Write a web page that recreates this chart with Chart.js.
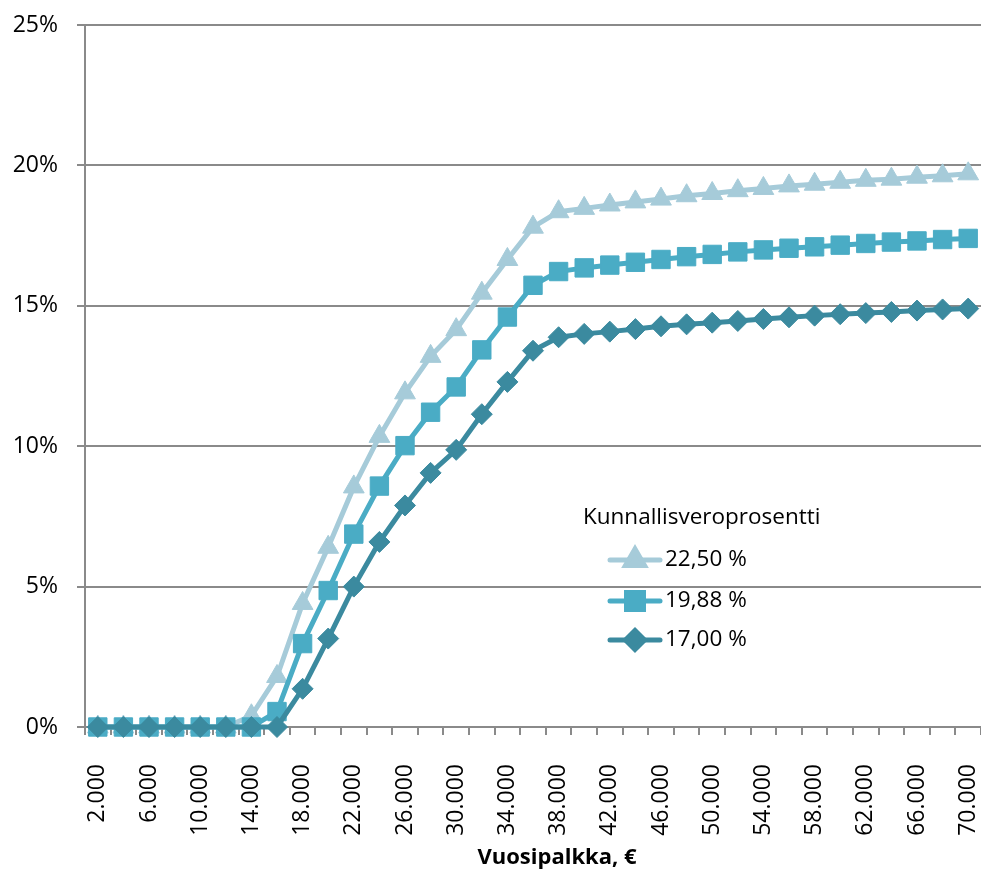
<!DOCTYPE html>
<html>
<head>
<meta charset="utf-8">
<script src="https://cdn.jsdelivr.net/npm/chart.js@4/dist/chart.umd.min.js"></script>
<style>
  html, body { margin: 0; padding: 0; background: #fff; }
  #wrap { width: 981px; height: 872px; }
</style>
</head>
<body>
<div id="wrap"><canvas id="chart" width="981" height="872"></canvas></div>
<script>
// Vuosipalkka (€) vs. tax share, three municipal tax rates
var salaries = [2000, 4000, 6000, 8000, 10000, 12000, 14000, 16000, 18000, 20000,
  22000, 24000, 26000, 28000, 30000, 32000, 34000, 36000, 38000, 40000,
  42000, 44000, 46000, 48000, 50000, 52000, 54000, 56000, 58000, 60000,
  62000, 64000, 66000, 68000, 70000];

var seriesNames = ["22,50 %", "19,88 %", "17,00 %"];

var tax2250 = [0, 0, 0, 0, 0, 0, 0.4, 1.8, 4.4, 6.4,
  8.55, 10.35, 11.9, 13.2, 14.15, 15.45, 16.65, 17.8, 18.35, 18.47,
  18.59, 18.7, 18.8, 18.92, 19.0, 19.1, 19.18, 19.27, 19.33, 19.4,
  19.47, 19.51, 19.58, 19.63, 19.7];

var tax1988 = [0, 0, 0, 0, 0, 0, 0, 0.55, 2.97, 4.86,
  6.87, 8.58, 10.02, 11.21, 12.11, 13.43, 14.6, 15.73, 16.22, 16.35,
  16.45, 16.55, 16.65, 16.75, 16.83, 16.92, 16.99, 17.05, 17.1, 17.16,
  17.22, 17.27, 17.31, 17.36, 17.4];

var tax1700 = [0, 0, 0, 0, 0, 0, 0, 0, 1.36, 3.15,
  5.0, 6.59, 7.89, 9.05, 9.87, 11.14, 12.29, 13.4, 13.88, 14.0,
  14.08, 14.17, 14.27, 14.34, 14.4, 14.46, 14.53, 14.59, 14.65, 14.7,
  14.74, 14.78, 14.83, 14.87, 14.9];

var yTicks = [0, 5, 10, 15, 20, 25];

var FONT = "'Open Sans', 'Noto Sans', sans-serif";
var GRID = "#8a8a8a";

function fmtThousands(n) {
  return String(n).replace(/\B(?=(\d{3})+(?!\d))/g, ".");
}

function ds(label, data, color, style, radius) {
  return {
    label: label,
    data: data,
    borderColor: color,
    backgroundColor: color,
    borderWidth: 5,
    tension: 0,
    clip: false,
    pointStyle: style,
    pointRadius: radius,
    pointBorderWidth: 1,
    pointBackgroundColor: color,
    pointBorderColor: color
  };
}

// first dataset is drawn on top, so the diamonds go first
var datasets = [
  ds(seriesNames[2], tax1700, "#3b8a9f", "rectRot", 10.5),
  ds(seriesNames[1], tax1988, "#4aacc5", "rect", 13),
  ds(seriesNames[0], tax2250, "#a6cbd9", "triangle", 12)
];

// legend + axis title drawn by hand, placed like the original
var insideLegend = {
  id: "insideLegend",
  afterDatasetsDraw: function (chart) {
    var ctx = chart.ctx;
    ctx.save();
    ctx.fillStyle = "#000";
    ctx.font = "22.5px " + FONT;
    ctx.textBaseline = "middle";
    ctx.textAlign = "left";
    ctx.fillText("Kunnallisveroprosentti", 583, 518);
    var rows = [560, 601, 640];
    var order = [2, 1, 0];
    order.forEach(function (di, i) {
      var d = chart.data.datasets[di];
      var y = rows[i];
      ctx.strokeStyle = d.borderColor;
      ctx.lineWidth = 5;
      ctx.lineCap = "round";
      ctx.beginPath();
      ctx.moveTo(610, y);
      ctx.lineTo(660, y);
      ctx.stroke();
      ctx.fillStyle = d.backgroundColor;
      Chart.helpers.drawPoint(ctx, {
        pointStyle: d.pointStyle, radius: d.pointRadius - 1, rotation: 0, borderWidth: 1
      }, 635, y);
      ctx.fillStyle = "#000";
      ctx.fillText(d.label, 665, y);
    });
    ctx.font = "bold 22px " + FONT;
    ctx.textAlign = "center";
    ctx.fillText("Vuosipalkka, €", 557, 858);
    ctx.restore();
  }
};

new Chart(document.getElementById("chart"), {
  type: "line",
  data: {
    labels: salaries,
    datasets: datasets
  },
  options: {
    responsive: false,
    animation: false,
    layout: { autoPadding: false, padding: { top: 25, right: 0, left: 0, bottom: 0 } },
    plugins: {
      legend: { display: false },
      tooltip: { enabled: false }
    },
    scales: {
      x: {
        type: "category",
        offset: true,
        afterFit: function (s) {
          s.height = 145;
          s.paddingLeft = 0;
          s.paddingRight = 0;
        },
        grid: {
          offset: true,
          drawOnChartArea: false,
          drawTicks: true,
          tickLength: 8,
          color: GRID,
          lineWidth: 2
        },
        border: { display: true, color: GRID, width: 2 },
        ticks: {
          autoSkip: false,
          maxRotation: 90,
          minRotation: 90,
          padding: 29,
          color: "#000",
          font: { family: FONT, size: 23 },
          callback: function (v, i) {
            return i % 2 === 0 ? fmtThousands(salaries[i]) : "";
          }
        }
      },
      y: {
        min: yTicks[0],
        max: yTicks[yTicks.length - 1],
        afterFit: function (s) {
          s.width = 85;
          s.paddingTop = 0;
          s.paddingBottom = 0;
        },
        afterBuildTicks: function (s) {
          s.ticks = yTicks.map(function (v) { return { value: v }; });
        },
        grid: {
          color: GRID,
          lineWidth: 2,
          tickLength: 8
        },
        border: { display: true, color: GRID, width: 2 },
        ticks: {
          padding: 19,
          color: "#000",
          font: { family: FONT, size: 23 },
          callback: function (v) { return v + "%"; }
        }
      }
    }
  },
  plugins: [insideLegend]
});
</script>
</body>
</html>
